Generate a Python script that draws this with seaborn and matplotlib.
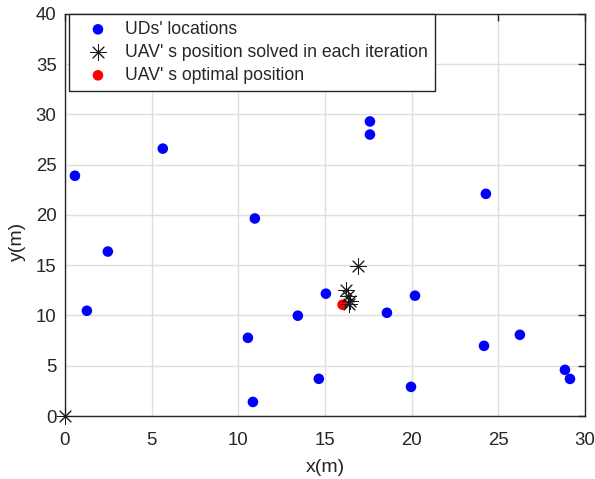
import numpy as np
import pandas as pd
import matplotlib
matplotlib.use("Agg")
import matplotlib.pyplot as plt
import seaborn as sns

# UDs' locations
ud_x = [0.58, 1.27, 2.48, 5.65, 10.96, 10.56, 10.85, 13.44, 14.65, 15.06,
        17.6, 17.6, 18.58, 20.2, 19.97, 24.29, 24.18, 26.25, 28.85, 29.14]
ud_y = [23.9, 10.47, 16.36, 26.6, 19.65, 7.78, 1.4, 9.98, 3.7, 12.17,
        29.3, 28.0, 10.27, 11.97, 2.9, 22.1, 6.98, 8.08, 4.59, 3.69]

# UAV position solved in each iteration
uav_x = [0.0, 16.9, 16.2, 16.35, 16.45, 16.4]
uav_y = [0.0, 14.95, 12.55, 11.9, 11.4, 11.15]

# optimal position
opt_x = [16.02]
opt_y = [11.07]

sns.set_style("white")
plt.rcParams['font.family'] = ['Liberation Sans', 'DejaVu Sans']

ud = pd.DataFrame({"x": ud_x, "y": ud_y})
uav = pd.DataFrame({"x": uav_x, "y": uav_y})
opt = pd.DataFrame({"x": opt_x, "y": opt_y})

fig = plt.figure(figsize=(5.95, 4.79), dpi=100)
ax = fig.add_axes([0.109, 0.1315, 0.874, 0.8395])

sns.scatterplot(data=ud, x="x", y="y", ax=ax, color="#0000ff", s=58,
                edgecolor="none", label="UDs' locations", zorder=3)
sns.scatterplot(data=uav, x="x", y="y", ax=ax, color="#1a1a1a", s=125,
                marker=(8, 2, 0), linewidth=0.7,
                label="UAV' s position solved in each iteration", zorder=5)
sns.scatterplot(data=opt, x="x", y="y", ax=ax, color="#ff0000", s=58,
                edgecolor="none", label="UAV' s optimal position", zorder=4)

ax.set_xlim(0, 30)
ax.set_ylim(0, 40)
ax.set_xticks(np.arange(0, 31, 5))
ax.set_yticks(np.arange(0, 41, 5))
ax.grid(True, color="#dedede", linewidth=1.0)
ax.set_axisbelow(True)
ax.tick_params(direction="in", top=True, right=True, length=5, width=1,
               labelsize=13.4, colors="#262626")
ax.tick_params(axis="x", pad=11.5)
ax.tick_params(axis="y", pad=6)
for sp in ax.spines.values():
    sp.set_color("#262626")
    sp.set_linewidth(1.0)
ax.set_xlabel("x(m)", fontsize=14, color="#262626", labelpad=7)
ax.set_ylabel("y(m)", fontsize=14, color="#262626", labelpad=7, y=0.435)

leg = ax.legend(loc="upper left", bbox_to_anchor=(0.0077, 1.0), fontsize=12.7,
                frameon=True, fancybox=False, edgecolor="#262626",
                framealpha=1, borderaxespad=0, handlelength=2.5,
                handletextpad=0.28, borderpad=0.4, labelspacing=0.34)
leg.get_frame().set_linewidth(1.0)
for c in ax.collections:
    c.set_clip_on(False)

fig.savefig("out.png", dpi=100)
